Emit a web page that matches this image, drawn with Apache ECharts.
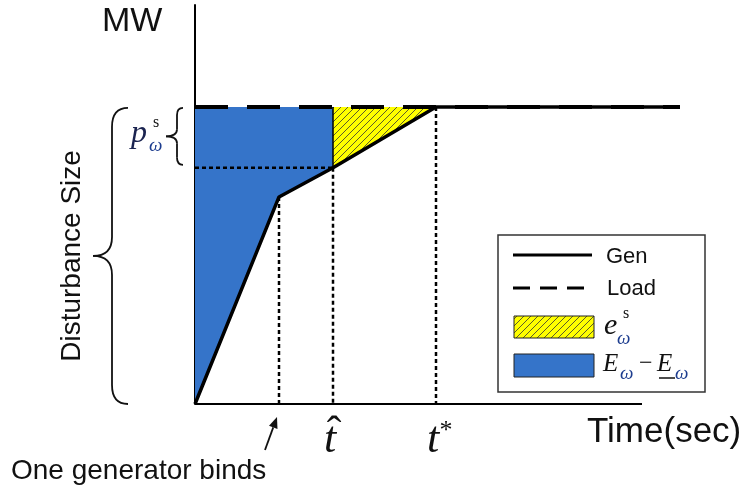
<!DOCTYPE html>
<html><head><meta charset="utf-8">
<script src="https://cdn.jsdelivr.net/npm/echarts@6/dist/echarts.min.js"></script>
<style>html,body{margin:0;padding:0;background:#fff}#c{width:753px;height:492px}</style>
</head><body><div id="c"></div>
<script>
// ---- data (time in arbitrary units, MW in % of disturbance) ----
const genTime = [0, 8.4, 13.8, 24.1, 48.5];
const genMW   = [0, 69.7, 79.5, 100, 100];
const loadTime = [0, 48.5];
const loadMW   = [100, 100];
const tBind = 8.4, tHat = 13.8, tStar = 24.1;
const timeAxisEnd = 44.7;
const timeMax = 48.5;
const mwAxisMax = 134.3;
const axisTitles = ['MW', 'Time(sec)', 'Disturbance Size'];
const legendNames = ['Gen', 'Load'];
const bindNote = 'One generator binds';

(function () {
const L = loadMW[0];
const genPts = genTime.map((t, i) => [t, genMW[i]]);
const genAt = t => genMW[genTime.indexOf(t)];
const bluePoly = [[0, L], [tHat, L]].concat(genPts.filter(p => p[0] <= tHat).reverse());
const yellowPoly = [[tHat, L], [tStar, L]].concat(genPts.filter(p => p[0] >= tHat && p[0] <= tStar).reverse());

// hatch pattern
const S = 7;
const hc = document.createElement('canvas'); hc.width = S; hc.height = S;
const hx = hc.getContext('2d');
hx.fillStyle = '#ffff00'; hx.fillRect(0, 0, S, S);
hx.strokeStyle = '#333'; hx.lineWidth = 0.8;
hx.beginPath();
hx.moveTo(-1, S + 1); hx.lineTo(S + 1, -1);
hx.moveTo(-1, 1); hx.lineTo(1, -1);
hx.moveTo(S - 1, S + 1); hx.lineTo(S + 1, S - 1);
hx.stroke();
const hatch = { image: hc, repeat: 'repeat' };
const BLUE = '#3574C9';

const chart = echarts.init(document.getElementById('c'));
const polyRender = (pts, fill) => (params, api) => ({
  type: 'polygon', shape: { points: pts.map(p => api.coord(p)) }, style: { fill: fill, stroke: null }
});
const seg = (data, width, type, z) => ({
  type: 'line', data: data, symbol: 'none', silent: true, animation: false, z: z,
  lineStyle: { color: '#000', width: width, type: type, cap: 'butt' }
});

chart.setOption({
  animation: false,
  grid: { left: 195, right: 73, top: 5, bottom: 88 },
  xAxis: { type: 'value', min: 0, max: timeMax, axisLine: { show: false }, axisTick: { show: false },
    axisLabel: { show: false }, splitLine: { show: false } },
  yAxis: { type: 'value', min: 0, max: mwAxisMax, axisLine: { show: true, lineStyle: { color: '#000', width: 2 } },
    axisTick: { show: false }, axisLabel: { show: false }, splitLine: { show: false } },
  series: [
    { type: 'custom', renderItem: polyRender(bluePoly, BLUE), data: [[0, 0]], z: 1, silent: true },
    { type: 'custom', renderItem: polyRender(yellowPoly, hatch), data: [[0, 0]], z: 1, silent: true },
    seg([[tHat, genAt(tHat)], [tHat, L]], 1.5, 'solid', 2),
    seg([[tBind, genAt(tBind)], [tBind, 0]], 2.5, [4, 3], 2),
    seg([[tHat, genAt(tHat)], [tHat, 0]], 2.5, [4, 3], 2),
    seg([[tStar, L], [tStar, 0]], 2.5, [4, 3], 2),
    seg([[0, genAt(tHat)], [tHat, genAt(tHat)]], 2.5, [4, 3], 2),
    seg([[0, 0], [timeAxisEnd, 0]], 2, 'solid', 3),
    seg(loadTime.map((t, i) => [t, loadMW[i]]), 4, [33, 19], 4),
    seg(genPts, 3.5, 'solid', 5)
  ]
});

const P = (x, y) => chart.convertToPixel({ gridIndex: 0 }, [x, y]);
const o = P(0, 0), loadTop = P(0, L), hatP = P(tHat, genAt(tHat)), bindP = P(tBind, 0), hatX = P(tHat, 0), starX = P(tStar, 0);

const bst = { stroke: '#111', lineWidth: 1.8, fill: null };
function brace(xR, yT, yB, xs, xt, r) {
  const ym = (yT + yB) / 2;
  const q = (x1, y1, cx, cy, x2, y2) => ({ type: 'bezierCurve', silent: true, shape: { x1, y1, x2, y2, cpx1: cx, cpy1: cy }, style: bst });
  const l = (x1, y1, x2, y2) => ({ type: 'line', silent: true, shape: { x1, y1, x2, y2 }, style: bst });
  return [
    q(xR, yT, xs, yT, xs, yT + r), l(xs, yT + r, xs, ym - r), q(xs, ym - r, xs, ym, xt, ym),
    q(xt, ym, xs, ym, xs, ym + r), l(xs, ym + r, xs, yB - r), q(xs, yB - r, xs, yB, xR, yB)
  ];
}
const serif = '"Liberation Serif", "Times New Roman", serif';
const sans = '"Liberation Sans", Arial, sans-serif';
const txt = (text, x, y, font, opts) => ({
  type: 'text', silent: true, z: 10,
  style: Object.assign({ text: text, x: x, y: y, font: font, fill: '#111', align: 'left', verticalAlign: 'middle' }, opts || {})
});

const bigT = loadTop[1] + 1, bigB = o[1];
const smT = loadTop[1] + 1, smB = hatP[1] - 3;
const smTip = o[0] - 29;
const ax = { x1: bindP[0] - 14, y1: o[1] + 46, x2: bindP[0] - 2, y2: o[1] + 13 };
const ang = Math.atan2(ax.y2 - ax.y1, ax.x2 - ax.x1);
const hl = 11, hw = 4.5;
const hb = [ax.x2 - hl * Math.cos(ang), ax.y2 - hl * Math.sin(ang)];
const head = [[ax.x2, ax.y2], [hb[0] + hw * Math.sin(ang), hb[1] - hw * Math.cos(ang)], [hb[0] - hw * Math.sin(ang), hb[1] + hw * Math.cos(ang)]];

const OMEGA = '#1d3d8f';
chart.setOption({
  graphic: [].concat(
    brace(o[0] - 67, bigT, bigB, o[0] - 83, o[0] - 102, 19),
    brace(o[0] - 12, smT, smB, o[0] - 18, smTip, 7),
  [
    txt(axisTitles[0], 102, 22, '34px ' + sans),
    txt(axisTitles[1], 587, 432, '35px ' + sans),
    { type: 'text', silent: true, x: 72, y: (bigT + bigB) / 2, rotation: Math.PI / 2,
      style: { text: axisTitles[2], x: 0, y: 0, font: '28px ' + sans, fill: '#111', align: 'center', verticalAlign: 'middle' } },
    txt('p', smTip - 35, 134, 'italic 32px ' + serif, { fill: '#1b2450' }),
    txt('s', smTip - 13, 123, '16px ' + serif),
    txt('ω', smTip - 17, 146, 'italic 19px ' + serif, { fill: OMEGA }),
    txt('t', hatX[0] - 3, 440, 'italic 44px ' + serif, { align: 'center' }),
    txt('ˆ', hatX[0] + 1, 434, '44px ' + serif, { align: 'center' }),
    txt('t', starX[0] - 3, 440, 'italic 44px ' + serif, { align: 'center' }),
    txt('*', starX[0] + 10, 431, '26px ' + serif, { align: 'center' }),
    txt(bindNote, 11, 471, '28px ' + sans),
    { type: 'line', silent: true, shape: { x1: ax.x1, y1: ax.y1, x2: hb[0], y2: hb[1] }, style: { stroke: '#111', lineWidth: 1.8 } },
    { type: 'polygon', silent: true, shape: { points: head }, style: { fill: '#111' } },
    { type: 'rect', silent: true, z: 8, shape: { x: 498, y: 235, width: 207, height: 157 }, style: { fill: '#fff', stroke: '#333', lineWidth: 1.5 } },
    { type: 'line', silent: true, z: 9, shape: { x1: 513, y1: 255, x2: 592, y2: 255 }, style: { stroke: '#000', lineWidth: 3 } },
    txt(legendNames[0], 606, 257, '22px ' + sans),
    { type: 'line', silent: true, z: 9, shape: { x1: 513, y1: 288, x2: 592, y2: 288 }, style: { stroke: '#000', lineWidth: 3, lineDash: [17, 10] } },
    txt(legendNames[1], 607, 289, '22px ' + sans),
    { type: 'rect', silent: true, z: 9, shape: { x: 514, y: 316, width: 80, height: 22 }, style: { fill: hatch, stroke: '#222', lineWidth: 1 } },
    txt('e', 604, 326, 'italic 30px ' + serif),
    txt('s', 623, 314, '16px ' + serif),
    txt('ω', 617, 339, 'italic 19px ' + serif, { fill: OMEGA }),
    { type: 'rect', silent: true, z: 9, shape: { x: 514, y: 354, width: 80, height: 23 }, style: { fill: BLUE, stroke: '#222', lineWidth: 1 } },
    txt('E', 603, 364, 'italic 25px ' + serif),
    txt('ω', 620, 374, 'italic 19px ' + serif, { fill: OMEGA }),
    txt('−', 639, 364, '24px ' + serif),
    txt('E', 657, 364, 'italic 25px ' + serif),
    { type: 'line', silent: true, z: 10, shape: { x1: 659, y1: 378, x2: 675, y2: 378 }, style: { stroke: '#111', lineWidth: 1.5 } },
    txt('ω', 675, 374, 'italic 19px ' + serif, { fill: OMEGA })
  ])
});
})();
</script></body></html>
